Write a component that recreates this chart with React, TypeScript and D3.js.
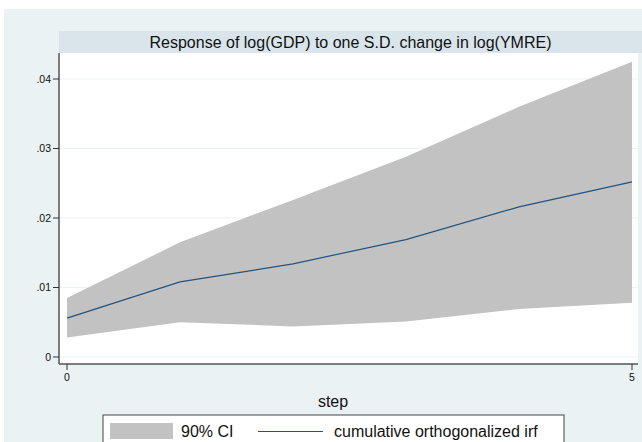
import React from 'react';
import * as d3 from 'd3';

// impulse-response values
const steps = [0, 1, 2, 3, 4, 5];
const irf = [0.0056, 0.0108, 0.0134, 0.0169, 0.0216, 0.0252];
const ciLower = [0.0028, 0.005, 0.0044, 0.0051, 0.0069, 0.0078];
const ciUpper = [0.0085, 0.0165, 0.0226, 0.0288, 0.036, 0.0425];
const yTicks = [0, 0.01, 0.02, 0.03, 0.04];
const xTicks = [0, 5];

const W = 642;
const H = 442;
const font = '"Liberation Sans", Arial, Helvetica, sans-serif';

export default function App() {
  // plot region
  const left = 59;
  const right = 638;
  const top = 53;
  const bottom = 364;

  const x = d3.scaleLinear().domain([0, 5]).range([67, 632]);
  const y = d3.scaleLinear().domain([0, 0.04]).range([357, 79]);

  const area = d3
    .area<number>()
    .x((d, i) => x(steps[i]))
    .y0((d, i) => y(ciLower[i]))
    .y1((d, i) => y(ciUpper[i]));
  const line = d3
    .line<number>()
    .x((d, i) => x(steps[i]))
    .y((d) => y(d));

  const fmt = (v: number) => (v === 0 ? '0' : d3.format('.2f')(v).replace(/^0/, ''));

  return (
    <svg
      width={W}
      height={H}
      style={{ position: 'absolute', left: 0, top: 0, display: 'block' }}
      fontFamily={font}
    >
      <rect x={0} y={0} width={W} height={H} fill="#ffffff" />
      {/* graph background */}
      <rect x={4} y={9} width={W - 4} height={H - 9} fill="#eaf2f3" />
      {/* title bar */}
      <rect x={left} y={31} width={W - left} height={22} fill="#d9e5ea" />
      <text x={(left + W) / 2} y={48} textAnchor="middle" fontSize={16} fill="#111">
        Response of log(GDP) to one S.D. change in log(YMRE)
      </text>
      {/* plot region */}
      <rect x={left} y={top} width={right - left} height={bottom - top} fill="#ffffff" />
      {yTicks.map((t) => (
        <line key={'g' + t} x1={left} x2={right} y1={y(t)} y2={y(t)} stroke="#eaf2f3" strokeWidth={1} />
      ))}
      <path d={area(irf) || ''} fill="#c2c2c2" />
      <path d={line(irf) || ''} fill="none" stroke="#24527d" strokeWidth={1.2} />
      {/* axes */}
      <line x1={left} x2={left} y1={top} y2={bottom} stroke="#555" strokeWidth={1.5} />
      <line x1={left} x2={right} y1={bottom} y2={bottom} stroke="#555" strokeWidth={1.5} />
      {yTicks.map((t) => (
        <g key={'y' + t}>
          <line x1={left - 6} x2={left} y1={y(t)} y2={y(t)} stroke="#333" strokeWidth={1} />
          <text x={left - 8} y={y(t) + 3.5} textAnchor="end" fontSize={10.5} fill="#111">
            {fmt(t)}
          </text>
        </g>
      ))}
      {xTicks.map((t) => (
        <g key={'x' + t}>
          <line x1={x(t)} x2={x(t)} y1={bottom} y2={bottom + 6} stroke="#333" strokeWidth={1} />
          <text x={x(t)} y={bottom + 17} textAnchor="middle" fontSize={10.5} fill="#111">
            {t}
          </text>
        </g>
      ))}
      <text x={333} y={407} textAnchor="middle" fontSize={16} fill="#111">
        step
      </text>
      {/* legend */}
      <rect x={103} y={415} width={461} height={40} fill="#ffffff" stroke="#444" strokeWidth={1} />
      <rect x={110} y={423} width={63} height={16} fill="#c2c2c2" />
      <text x={181} y={437} fontSize={16} fill="#111">
        90% CI
      </text>
      <line x1={258} x2={323} y1={431.5} y2={431.5} stroke="#24527d" strokeWidth={1.2} />
      <text x={334} y={437} fontSize={16} fill="#111">
        cumulative orthogonalized irf
      </text>
    </svg>
  );
}
